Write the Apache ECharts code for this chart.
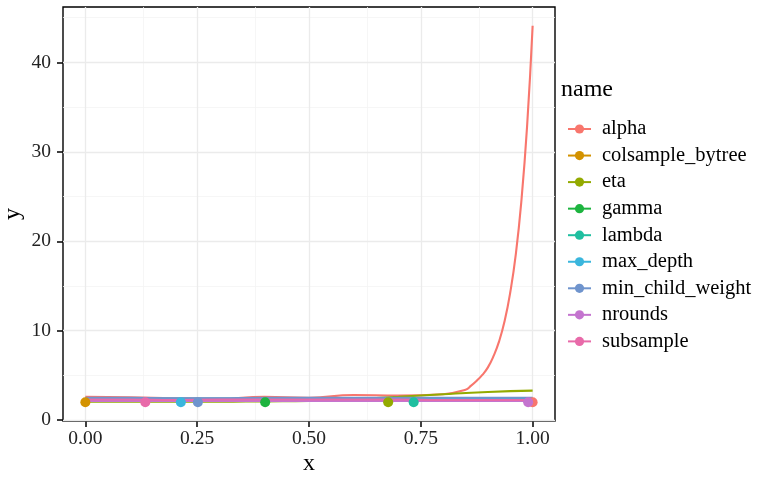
<!DOCTYPE html>
<html>
<head>
<meta charset="utf-8">
<script src="https://cdn.jsdelivr.net/npm/echarts@6/dist/echarts.min.js"></script>
<style>
  html, body { margin: 0; padding: 0; background: #fff; }
  #chart { width: 757px; height: 480px; }
</style>
</head>
<body>
<div id="chart"></div>
<script>
// series names in legend order
const names = ['alpha', 'colsample_bytree', 'eta', 'gamma', 'lambda',
  'max_depth', 'min_child_weight', 'nrounds', 'subsample'];
const colors = ['#F8766D', '#D39200', '#93AA00', '#1DB43F', '#1FBFA0',
  '#3AB6DD', '#6F94CD', '#C474CF', '#E86AA9'];

// x positions of the curves
const xCommon = [0, 0.1, 0.2, 0.3, 0.4, 0.5, 0.6, 0.7, 0.8, 0.9, 1.0];
const xAlpha = [0, 0.1, 0.2, 0.3, 0.4, 0.5, 0.6, 0.7, 0.8, 0.85, 0.8625, 0.875,
  0.8875, 0.9, 0.9125, 0.925, 0.9375, 0.95, 0.9625, 0.975, 0.9875, 1.0];

// curve values
const alphaY = [2.6, 2.55, 2.45, 2.4, 2.6, 2.5, 2.8, 2.75, 2.9, 3.4, 3.85, 4.4,
  5.05, 5.9, 7.15, 8.8, 11.1, 14.3, 18.6, 24.6, 32.8, 44.1];
const colsampleY = [2.2, 2.2, 2.2, 2.15, 2.15, 2.2, 2.2, 2.2, 2.2, 2.2, 2.2];
const etaY = [2.05, 2.05, 2.05, 2.05, 2.1, 2.15, 2.35, 2.6, 2.9, 3.15, 3.3];
const gammaY = [2.3, 2.3, 2.3, 2.3, 2.35, 2.3, 2.3, 2.3, 2.3, 2.3, 2.3];
const lambdaY = [2.35, 2.35, 2.35, 2.35, 2.35, 2.35, 2.35, 2.35, 2.35, 2.35, 2.32];
const maxDepthY = [2.4, 2.4, 2.4, 2.4, 2.4, 2.4, 2.4, 2.4, 2.4, 2.4, 2.4];
const minChildY = [2.5, 2.5, 2.45, 2.45, 2.5, 2.5, 2.5, 2.5, 2.5, 2.5, 2.5];
const nroundsY = [2.15, 2.15, 2.15, 2.15, 2.15, 2.15, 2.15, 2.15, 2.15, 2.15, 2.15];
const subsampleY = [2.3, 2.3, 2.25, 2.3, 2.3, 2.3, 2.3, 2.3, 2.25, 2.25, 2.25];

// highlighted points (one per name)
const pointX = [1.0, 0.0, 0.677, 0.402, 0.734, 0.2135, 0.2515, 0.99, 0.134];
const pointY = [2.0, 2.0, 2.0, 2.0, 2.0, 2.0, 2.0, 2.0, 2.0];

// ticks and grid lines
const xTicks = [0, 0.25, 0.5, 0.75, 1];
const xMinor = [0.125, 0.375, 0.625, 0.875];
const yTicks = [0, 10, 20, 30, 40];
const yMinor = [5, 15, 25, 35, 45];

const curves = [
  [xAlpha, alphaY], [xCommon, colsampleY], [xCommon, etaY], [xCommon, gammaY],
  [xCommon, lambdaY], [xCommon, maxDepthY], [xCommon, minChildY],
  [xCommon, nroundsY], [xCommon, subsampleY]
];

const font = 'Liberation Serif';
const chart = echarts.init(document.getElementById('chart'));

const gridLines = (vals, key, col, w) => vals.map(v => ({
  [key]: v, lineStyle: { color: col, width: w, type: 'solid' }
}));

const series = [{
  name: '_grid',
  type: 'line',
  data: [],
  z: 0,
  silent: true,
  markLine: {
    silent: true,
    symbol: 'none',
    label: { show: false },
    animation: false,
    z: 1,
    data: [
      ...gridLines(xMinor, 'xAxis', '#f4f4f4', 0.8),
      ...gridLines(yMinor, 'yAxis', '#f4f4f4', 0.8),
      ...gridLines(xTicks, 'xAxis', '#ebebeb', 1.3),
      ...gridLines(yTicks, 'yAxis', '#ebebeb', 1.3)
    ]
  }
}];

names.forEach((n, i) => {
  const [xs, ys] = curves[i];
  series.push({
    name: n,
    type: 'line',
    data: xs.map((x, j) => [x, ys[j]]),
    smooth: 0.5,
    symbol: 'circle',
    showSymbol: false,
    color: colors[i],
    lineStyle: { color: colors[i], width: 2.1 },
    z: 10
  });
});

names.forEach((n, i) => {
  series.push({
    name: n,
    type: 'scatter',
    data: [[pointX[i], pointY[i]]],
    symbolSize: 10,
    itemStyle: { color: colors[i], opacity: 1 },
    z: 11
  });
});

chart.setOption({
  animation: false,
  backgroundColor: '#fff',
  title: {
    text: 'name',
    left: 561,
    top: 78,
    padding: 0,
    textStyle: { fontFamily: font, fontSize: 24, fontWeight: 'normal', color: '#000' }
  },
  legend: {
    data: names,
    orient: 'vertical',
    left: 567,
    top: 118.5,
    padding: 0,
    itemWidth: 23,
    itemHeight: 11.5,
    itemGap: 5.55,
    textStyle: { fontFamily: font, fontSize: 20.5, color: '#000', padding: [0, 0, 0, 6] }
  },
  grid: {
    left: 63, right: 202, top: 7, bottom: 59,
    outerBoundsMode: 'none',
    show: true,
    borderColor: '#000',
    borderWidth: 1.4,
    containLabel: false
  },
  xAxis: {
    type: 'value',
    min: -0.05,
    max: 1.05,
    name: 'x',
    nameLocation: 'middle',
    nameGap: 31,
    nameMoveOverlap: false,
    nameTextStyle: { fontFamily: font, fontSize: 24, color: '#000' },
    axisLine: { show: false, onZero: false },
    splitLine: { show: false },
    axisTick: { show: true, customValues: xTicks, length: 6, lineStyle: { color: '#000', width: 1.5 } },
    axisLabel: {
      customValues: xTicks,
      formatter: v => v.toFixed(2),
      fontFamily: font, fontSize: 19.5, color: '#222', margin: 8
    }
  },
  yAxis: {
    type: 'value',
    min: -0.1,
    max: 46.2,
    name: 'y',
    nameLocation: 'middle',
    nameGap: 38,
    nameMoveOverlap: false,
    nameRotate: 90,
    nameTextStyle: { fontFamily: font, fontSize: 24, color: '#000' },
    axisLine: { show: false, onZero: false },
    splitLine: { show: false },
    axisTick: { show: true, customValues: yTicks, length: 6, lineStyle: { color: '#000', width: 1.5 } },
    axisLabel: {
      customValues: yTicks,
      fontFamily: font, fontSize: 19.5, color: '#222', margin: 12
    }
  },
  series: series
});
</script>
</body>
</html>
